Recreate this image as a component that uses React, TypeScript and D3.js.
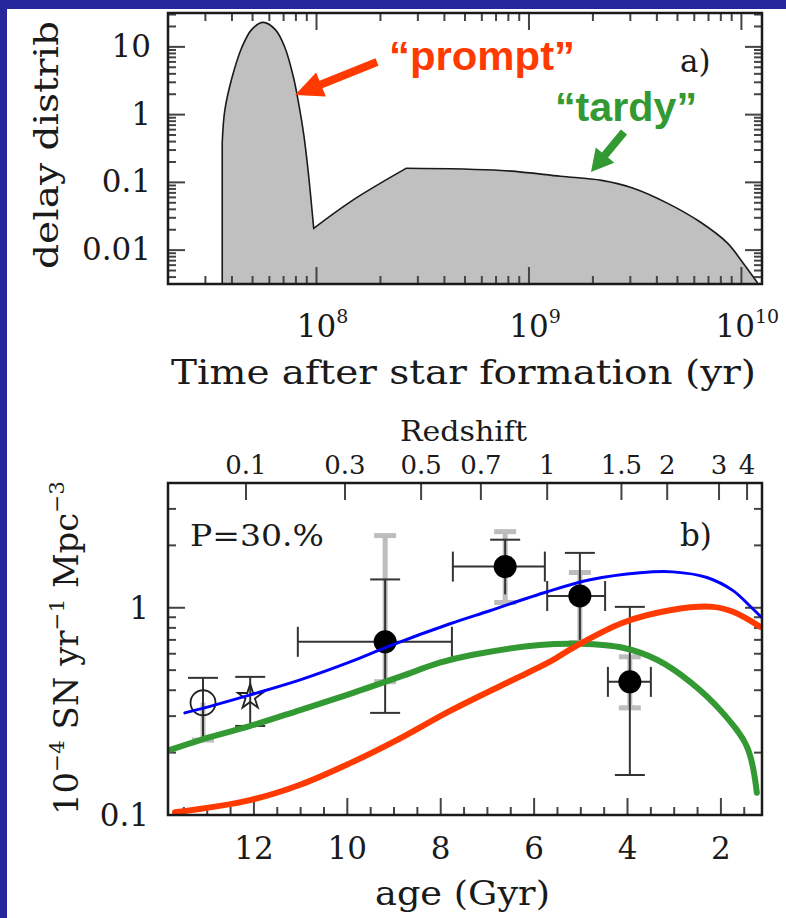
import * as d3 from "d3";

// panel a: delay time distribution (time in yr)
const promptTime = [3.6e7, 3.7e7, 4.0e7, 4.45e7, 4.95e7, 5.6e7, 6.4e7, 7.1e7, 7.8e7, 8.2e7, 8.7e7, 9.15e7, 9.7e7];
const promptValue = [0.39, 1.15, 3.5, 9.8, 18, 23, 18, 9.8, 3.5, 1.6, 0.52, 0.14, 0.021];
const riseTime = [9.7e7, 1.46e8, 2.65e8];
const riseValue = [0.021, 0.053, 0.162];
const tardyTime = [2.65e8, 7.4e8, 1.41e9, 2.2e9, 3.1e9, 4.5e9, 6.4e9, 8.6e9, 1.02e10, 1.19e10];
const tardyValue = [0.162, 0.15, 0.123, 0.107, 0.082, 0.049, 0.026, 0.0127, 0.0064, 0.0033];
const delayTickValues = [10, 1, 0.1, 0.01];
const delayTickLabels = ["10", "1", "0.1", "0.01"];
const timeTickExps = [8, 9, 10];

// panel b: SN Ia rate vs age (Gyr)
const blueAge = [13.48, 12.79, 12.08, 11.01, 9.94, 9.09, 7.8, 6.95, 5.72, 4.8, 3.73, 3.03, 2.3, 1.74, 1.38, 1.12];
const blueRate = [0.311, 0.342, 0.38, 0.449, 0.548, 0.655, 0.837, 0.967, 1.195, 1.365, 1.476, 1.49, 1.4, 1.21, 1.02, 0.895];
const redAge = [13.69, 12.08, 11.01, 9.94, 8.94, 7.8, 6.58, 5.66, 5.17, 4.1, 3.03, 2.17, 1.74, 1.16];
const redRate = [0.103, 0.118, 0.14, 0.178, 0.23, 0.318, 0.435, 0.549, 0.641, 0.847, 0.978, 1.01, 0.956, 0.81];
const greenAge = [13.8, 13.15, 12.08, 11.01, 9.94, 8.87, 8.02, 7.31, 5.88, 5.02, 4.1, 3.37, 2.66, 1.96, 1.44, 1.23];
const greenRate = [0.206, 0.23, 0.269, 0.321, 0.384, 0.465, 0.543, 0.593, 0.662, 0.67, 0.641, 0.561, 0.439, 0.311, 0.213, 0.128];

// measurements: age, rate, black error bars, grey (systematic) error bars, age range
const obsKind = ["open", "star", "filled", "filled", "filled", "filled"];
const obsAge = [13.09, 12.08, 9.19, 6.62, 5.02, 3.95];
const obsRate = [0.348, 0.371, 0.685, 1.58, 1.14, 0.439];
const obsLow = [0.23, 0.269, 0.311, 1.16, 0.7, 0.156];
const obsHigh = [0.459, 0.464, 1.37, 2.13, 1.84, 1.01];
const obsGreyLow = [0.23, null, 0.44, 1.06, 0.68, 0.329];
const obsGreyHigh = [null, null, 2.23, 2.33, 1.48, 0.58];
const obsAgeMax = [null, null, 11.06, 7.74, 5.72, 4.42];
const obsAgeMin = [null, null, 7.76, 5.77, 4.48, 3.5];

const ageTicks = [12, 10, 8, 6, 4, 2];
const redshiftLabels = ["0.1", "0.3", "0.5", "0.7", "1", "1.5", "2", "3", "4"];
const redshiftAges = [12.17, 10.05, 8.42, 7.14, 5.72, 4.13, 3.15, 2.04, 1.44];
const rateTickValues = [1, 0.1];

const W = 786;
const H = 918;
const SERIF = "'DejaVu Serif', serif";
const SANS = "'Liberation Sans', Arial, sans-serif";
const INK = "#1a1a1a";
const RED = "#ff3a00";
const GREEN = "#339933";

const A = { left: 168, right: 762, top: 13, bottom: 284 };
const B = { left: 168, right: 762, top: 483, bottom: 815 };

const xA = d3.scaleLog().domain([2e7, 1.25e10]).range([A.left, A.right]);
const yA = d3.scaleLog().domain([10 ** -2.5, 10 ** 1.5]).range([A.bottom, A.top]);
const xB = d3.scaleLinear().domain([13.84, 1.12]).range([B.left, B.right]);
const yB = d3.scaleLog().domain([0.1, 4]).range([B.bottom, B.top]);

const logTicks = (scale: d3.ScaleLogarithmic<number, number>) => {
  const [lo, hi] = scale.domain();
  const out: { v: number; major: boolean }[] = [];
  for (let e = Math.floor(Math.log10(lo)); e <= Math.ceil(Math.log10(hi)); e++) {
    for (let m = 1; m <= 9; m++) {
      const v = m * 10 ** e;
      if (v >= lo * 0.999 && v <= hi * 1.001) out.push({ v, major: m === 1 });
    }
  }
  return out;
};

const segPath = (xs: number[], ys: number[], fx: (v: number) => number, fy: (v: number) => number) =>
  d3
    .line<number>()
    .x((_, i) => fx(xs[i]))
    .y((_, i) => fy(ys[i]))
    .curve(d3.curveCatmullRom)(xs) ?? "";

const Arrow = ({ from, to, width, headLen, headW, color }: { from: [number, number]; to: [number, number]; width: number; headLen: number; headW: number; color: string }) => {
  const dx = to[0] - from[0];
  const dy = to[1] - from[1];
  const len = Math.hypot(dx, dy);
  const ux = dx / len;
  const uy = dy / len;
  const nx = -uy;
  const ny = ux;
  const bx = to[0] - ux * headLen;
  const by = to[1] - uy * headLen;
  const pts = [
    [from[0] + (nx * width) / 2, from[1] + (ny * width) / 2],
    [bx + (nx * width) / 2, by + (ny * width) / 2],
    [bx + (nx * headW) / 2, by + (ny * headW) / 2],
    to,
    [bx - (nx * headW) / 2, by - (ny * headW) / 2],
    [bx - (nx * width) / 2, by - (ny * width) / 2],
    [from[0] - (nx * width) / 2, from[1] - (ny * width) / 2],
  ];
  return <polygon points={pts.map((p) => p.join(",")).join(" ")} fill={color} />;
};

const PanelA = () => {
  const prompt = segPath(promptTime, promptValue, xA, yA);
  const rise = segPath(riseTime, riseValue, xA, yA).replace(/^M/, "L");
  const tardy = segPath(tardyTime, tardyValue, xA, yA).replace(/^M/, "L");
  const x0 = xA(promptTime[0]);
  const x1 = xA(tardyTime[tardyTime.length - 1]);
  const shape = `M${x0},${A.bottom}L${prompt.slice(1)}${rise}${tardy}L${x1},${A.bottom}Z`;
  const xt = logTicks(xA);
  const yt = logTicks(yA);

  return (
    <g>
      <path d={shape} fill="#c0c0c0" stroke={INK} strokeWidth={1.6} />
      {xt.map(({ v, major }) => (
        <g key={`x${v}`} stroke="#444" strokeWidth={2}>
          <line x1={xA(v)} x2={xA(v)} y1={A.bottom} y2={A.bottom - (major ? 17 : 8)} />
          <line x1={xA(v)} x2={xA(v)} y1={A.top} y2={A.top + (major ? 17 : 8)} />
        </g>
      ))}
      {yt.map(({ v, major }) => (
        <g key={`y${v}`} stroke="#444" strokeWidth={2}>
          <line x1={A.left} x2={A.left + (major ? 17 : 8)} y1={yA(v)} y2={yA(v)} />
          <line x1={A.right} x2={A.right - (major ? 17 : 8)} y1={yA(v)} y2={yA(v)} />
        </g>
      ))}
      <rect x={A.left} y={A.top} width={A.right - A.left} height={A.bottom - A.top} fill="none" stroke={INK} strokeWidth={2.5} />
      {delayTickValues.map((v, i) => (
        <text key={v} x={A.left - 17} y={yA(v) + 10} textAnchor="end" fontSize={31}>
          {delayTickLabels[i]}
        </text>
      ))}
      {timeTickExps.map((e) => (
        <text key={e} x={xA(10 ** e) + 6} y={337} textAnchor="middle" fontSize={31}>
          10
          <tspan dy={-14} fontSize={19}>
            {e}
          </tspan>
        </text>
      ))}
      <text x={171} y={384} fontSize={33} textLength={585} lengthAdjust="spacingAndGlyphs">
        Time after star formation (yr)
      </text>
      <text transform="translate(58,145) rotate(-90)" textAnchor="middle" fontSize={33} textLength={248} lengthAdjust="spacingAndGlyphs">
        delay distrib
      </text>
      <text x={680} y={72} fontSize={31}>
        a)
      </text>
      <text x={389} y={70} fontFamily={SANS} fontWeight="bold" fontSize={41} fill={RED} textLength={186} lengthAdjust="spacingAndGlyphs">
        “prompt”
      </text>
      <Arrow from={[377, 62]} to={[295, 95]} width={8} headLen={28} headW={26} color={RED} />
      <text x={555} y={121} fontFamily={SANS} fontWeight="bold" fontSize={41} fill={GREEN} textLength={142} lengthAdjust="spacingAndGlyphs">
        “tardy”
      </text>
      <Arrow from={[624, 132]} to={[591, 172]} width={8} headLen={22} headW={24} color={GREEN} />
    </g>
  );
};

const PanelB = () => {
  const line = (ages: number[], rates: number[]) =>
    d3
      .line<number>()
      .x((_, i) => xB(ages[i]))
      .y((_, i) => yB(rates[i]))
      .curve(d3.curveCatmullRom.alpha(0.5))(ages) ?? "";
  const yt = logTicks(yB);
  const ageMinor = d3.range(13.5, 1.1, -0.5);

  return (
    <g>
      <defs>
        <clipPath id="clipB">
          <rect x={B.left} y={B.top} width={B.right - B.left} height={B.bottom - B.top} />
        </clipPath>
      </defs>
      {ageMinor.map((a) => {
        const major = a % 2 === 0;
        return <line key={a} x1={xB(a)} x2={xB(a)} y1={B.bottom} y2={B.bottom - (major ? 17 : 8)} stroke="#444" strokeWidth={2} />;
      })}
      {redshiftAges.map((a, i) => (
        <line key={redshiftLabels[i]} x1={xB(a)} x2={xB(a)} y1={B.top} y2={B.top + 17} stroke="#444" strokeWidth={2} />
      ))}
      {yt.map(({ v, major }) => (
        <g key={`yb${v}`} stroke="#444" strokeWidth={2}>
          <line x1={B.left} x2={B.left + (major ? 17 : 8)} y1={yB(v)} y2={yB(v)} />
          <line x1={B.right} x2={B.right - (major ? 17 : 8)} y1={yB(v)} y2={yB(v)} />
        </g>
      ))}

      {/* systematic error bars (grey) */}
      {obsAge.map((a, i) => {
        const x = xB(a);
        const lo = obsGreyLow[i];
        const hi = obsGreyHigh[i];
        const yTop = hi !== null ? yB(hi) : yB(obsRate[i]);
        const yBot = lo !== null ? yB(lo) : yB(obsRate[i]);
        return (
          <g key={`g${i}`} stroke="#bdbdbd" strokeWidth={5}>
            <line x1={x} x2={x} y1={yTop} y2={yBot} />
            {hi !== null && <line x1={x - 11} x2={x + 11} y1={yTop} y2={yTop} />}
            {lo !== null && <line x1={x - 11} x2={x + 11} y1={yBot} y2={yBot} />}
          </g>
        );
      })}
      {/* statistical error bars */}
      {obsAge.map((a, i) => {
        const x = xB(a);
        const y = yB(obsRate[i]);
        const amax = obsAgeMax[i];
        const amin = obsAgeMin[i];
        const greyLo = obsGreyLow[i];
        return (
          <g key={`e${i}`} stroke="#333" strokeWidth={2}>
            <line x1={x} x2={x} y1={yB(obsHigh[i])} y2={yB(obsLow[i])} />
            <line x1={x - 15} x2={x + 15} y1={yB(obsHigh[i])} y2={yB(obsHigh[i])} />
            {(greyLo === null || obsLow[i] < greyLo) && (
              <line x1={x - 15} x2={x + 15} y1={yB(obsLow[i])} y2={yB(obsLow[i])} />
            )}
            {amax !== null && amin !== null && (
              <>
                <line x1={xB(amax)} x2={xB(amin)} y1={y} y2={y} />
                <line x1={xB(amax)} x2={xB(amax)} y1={y - 15} y2={y + 15} />
                <line x1={xB(amin)} x2={xB(amin)} y1={y - 15} y2={y + 15} />
              </>
            )}
          </g>
        );
      })}
      {obsAge.map((a, i) => {
        const x = xB(a);
        const y = yB(obsRate[i]);
        if (obsKind[i] === "filled") return <circle key={`p${i}`} cx={x} cy={y} r={11.5} fill="#000" />;
        if (obsKind[i] === "open") return <circle key={`p${i}`} cx={x} cy={y} r={12.5} fill="none" stroke="#222" strokeWidth={1.8} />;
        return (
          <path
            key={`p${i}`}
            d={d3.symbol(d3.symbolStar, 190)() ?? ""}
            transform={`translate(${x},${y})`}
            fill="none"
            stroke="#222"
            strokeWidth={1.8}
          />
        );
      })}

      <g clipPath="url(#clipB)" fill="none" strokeLinecap="round">
        <path d={line(blueAge, blueRate)} stroke="#0000ff" strokeWidth={3} />
        <path d={line(greenAge, greenRate)} stroke={GREEN} strokeWidth={6} />
        <path d={line(redAge, redRate)} stroke={RED} strokeWidth={6} />
      </g>

      <rect x={B.left} y={B.top} width={B.right - B.left} height={B.bottom - B.top} fill="none" stroke={INK} strokeWidth={2.5} />

      {rateTickValues.map((v) => (
        <text key={v} x={149} y={yB(v) + 11} textAnchor="end" fontSize={31}>
          {v === 1 ? "1" : "0.1"}
        </text>
      ))}
      {ageTicks.map((a) => (
        <text key={a} x={xB(a)} y={859} textAnchor="middle" fontSize={31}>
          {a}
        </text>
      ))}
      {redshiftAges.map((a, i) => (
        <text key={redshiftLabels[i]} x={xB(a)} y={474} textAnchor="middle" fontSize={26}>
          {redshiftLabels[i]}
        </text>
      ))}
      <text x={400} y={441} fontSize={28} textLength={127} lengthAdjust="spacingAndGlyphs">
        Redshift
      </text>
      <text x={375} y={905} fontSize={33} textLength={175} lengthAdjust="spacingAndGlyphs">
        age (Gyr)
      </text>
      <text x={190} y={546} fontSize={29} textLength={134} lengthAdjust="spacingAndGlyphs">
        P=30.%
      </text>
      <text x={680} y={546} fontSize={31}>
        b)
      </text>
      <text transform="translate(78,648) rotate(-90)" textAnchor="middle" fontSize={33} textLength={334} lengthAdjust="spacingAndGlyphs">
        10
        <tspan dy={-14} fontSize={21}>−4</tspan>
        <tspan dy={14}> SN yr</tspan>
        <tspan dy={-14} fontSize={21}>−1</tspan>
        <tspan dy={14}> Mpc</tspan>
        <tspan dy={-14} fontSize={21}>−3</tspan>
      </text>
    </g>
  );
};

export default function App() {
  return (
    <svg
      width={W}
      height={H}
      viewBox={`0 0 ${W} ${H}`}
      style={{ position: "absolute", left: 0, top: 0 }}
      fontFamily={SERIF}
      fill={INK}
    >
      <rect x={0} y={0} width={W} height={H} fill="#26269c" />
      <rect x={7} y={9} width={W - 7} height={H - 9} fill="#ffffff" />
      <PanelA />
      <PanelB />
    </svg>
  );
}
